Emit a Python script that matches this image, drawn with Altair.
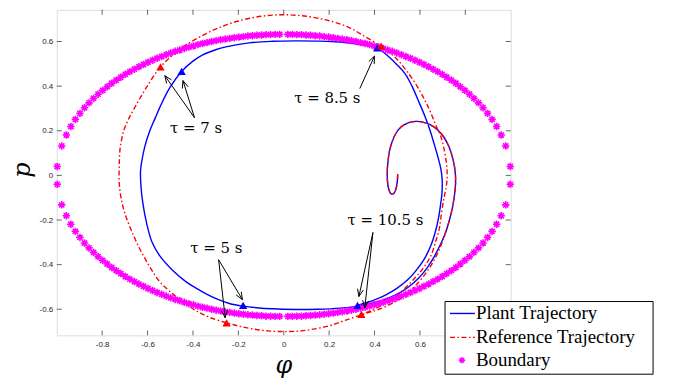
import math
import altair as alt
import pandas as pd

W, H = 456, 327
X_DOMAIN = [-1.0, 1.0]
Y_DOMAIN = [-0.717, 0.742]

x_ticks = [-0.8, -0.6, -0.4, -0.2, 0.0, 0.2, 0.4, 0.6, 0.8]
y_ticks = [-0.6, -0.4, -0.2, 0.0, 0.2, 0.4, 0.6]

# Boundary: first-quadrant samples (mirrored into the four quadrants)
bnd_phi = [0.018, 0.038, 0.058, 0.078, 0.098, 0.118, 0.138, 0.158, 0.178, 0.198,
           0.218, 0.238, 0.258, 0.278, 0.298, 0.318, 0.338, 0.358, 0.378, 0.398,
           0.418, 0.438, 0.458, 0.478, 0.498, 0.518, 0.538, 0.558, 0.578, 0.598,
           0.618, 0.638, 0.658, 0.678, 0.698, 0.718, 0.738, 0.758, 0.778, 0.798,
           0.818, 0.838, 0.858, 0.878, 0.898, 0.918, 0.938, 0.958, 0.978, 0.998]
bnd_p = [0.632, 0.632, 0.631, 0.631, 0.629, 0.628, 0.626, 0.625, 0.622, 0.620,
         0.617, 0.614, 0.611, 0.608, 0.604, 0.600, 0.595, 0.591, 0.586, 0.580,
         0.575, 0.569, 0.562, 0.556, 0.549, 0.541, 0.533, 0.525, 0.516, 0.507,
         0.497, 0.487, 0.476, 0.465, 0.453, 0.440, 0.427, 0.413, 0.397, 0.381,
         0.364, 0.345, 0.325, 0.303, 0.278, 0.251, 0.219, 0.181, 0.132, 0.040]

# Common initial spiral
spiral_phi = [0.502, 0.500, 0.494, 0.484, 0.472, 0.462, 0.457, 0.456, 0.459, 0.466,
              0.478, 0.495, 0.518, 0.548, 0.580, 0.612, 0.645, 0.677, 0.705, 0.728,
              0.745, 0.755, 0.757, 0.752, 0.742, 0.730, 0.715]
spiral_p = [0.005, -0.030, -0.062, -0.082, -0.082, -0.060, -0.025, 0.015, 0.060, 0.110,
            0.152, 0.190, 0.218, 0.235, 0.242, 0.239, 0.227, 0.205, 0.172, 0.128,
            0.075, 0.020, -0.035, -0.090, -0.150, -0.200, -0.250]

# Plant trajectory (after spiral)
plant_phi_rest = [0.695, 0.668, 0.635, 0.595, 0.550, 0.500, 0.440, 0.380, 0.320, 0.250,
                  0.150, 0.050, -0.050, -0.120, -0.180, -0.240, -0.290, -0.340, -0.390, -0.430,
                  -0.490, -0.546, -0.580, -0.604, -0.620, -0.629, -0.631, -0.626, -0.612, -0.590,
                  -0.565, -0.546, -0.502, -0.450, -0.400, -0.357, -0.300, -0.255, -0.153, -0.050,
                  0.050, 0.150, 0.211, 0.280, 0.350, 0.412, 0.459, 0.500, 0.535, 0.565,
                  0.595, 0.622, 0.645, 0.663, 0.680, 0.692, 0.698, 0.697, 0.691, 0.682,
                  0.670, 0.650, 0.619, 0.580, 0.546, 0.500, 0.450, 0.400, 0.360, 0.325]
plant_p_rest = [-0.300, -0.355, -0.410, -0.460, -0.500, -0.532, -0.558, -0.575, -0.587, -0.595,
                -0.600, -0.601, -0.598, -0.593, -0.586, -0.574, -0.556, -0.532, -0.503, -0.477,
                -0.425, -0.361, -0.300, -0.215, -0.130, -0.050, 0.020, 0.060, 0.130, 0.200,
                0.260, 0.305, 0.393, 0.466, 0.512, 0.540, 0.563, 0.576, 0.594, 0.601,
                0.603, 0.602, 0.600, 0.594, 0.584, 0.570, 0.535, 0.495, 0.455, 0.400,
                0.330, 0.265, 0.200, 0.140, 0.080, 0.030, -0.020, -0.080, -0.130, -0.190,
                -0.245, -0.310, -0.375, -0.430, -0.468, -0.505, -0.535, -0.558, -0.572, -0.583]

# Reference trajectory (after spiral)
ref_phi_rest = [0.698, 0.675, 0.645, 0.610, 0.570, 0.525, 0.475, 0.420, 0.380, 0.342,
                0.270, 0.197, 0.120, 0.066, 0.000, -0.070, -0.138, -0.200, -0.252, -0.328,
                -0.380, -0.429, -0.490, -0.546, -0.590, -0.633, -0.670, -0.700, -0.717, -0.725,
                -0.725, -0.721, -0.705, -0.685, -0.662, -0.604, -0.543, -0.488, -0.430, -0.371,
                -0.290, -0.200, -0.100, 0.000, 0.100, 0.200, 0.284, 0.350, 0.429, 0.490,
                0.540, 0.590, 0.625, 0.648, 0.672, 0.691, 0.706, 0.716, 0.720, 0.716,
                0.706, 0.695, 0.684, 0.668, 0.648, 0.615, 0.575, 0.530, 0.490, 0.440,
                0.390, 0.342]
ref_p_rest = [-0.300, -0.355, -0.410, -0.460, -0.505, -0.545, -0.575, -0.600, -0.613, -0.625,
              -0.650, -0.675, -0.691, -0.698, -0.700, -0.697, -0.688, -0.675, -0.661, -0.636,
              -0.610, -0.579, -0.530, -0.477, -0.410, -0.332, -0.250, -0.170, -0.100, -0.030,
              0.040, 0.120, 0.200, 0.250, 0.294, 0.396, 0.486, 0.540, 0.585, 0.620,
              0.660, 0.692, 0.713, 0.720, 0.713, 0.693, 0.665, 0.627, 0.578, 0.530,
              0.470, 0.396, 0.330, 0.280, 0.220, 0.178, 0.120, 0.060, 0.003, -0.050,
              -0.100, -0.170, -0.245, -0.300, -0.361, -0.415, -0.463, -0.510, -0.545, -0.578,
              -0.603, -0.623]

# Time markers (tau = 5, 7, 8.5, 10.5 s)
plant_mark_phi = [-0.179, -0.450, 0.412, 0.325]
plant_mark_p = [-0.583, 0.466, 0.572, -0.583]
ref_mark_phi = [-0.252, -0.543, 0.429, 0.342]
ref_mark_p = [-0.661, 0.486, 0.580, -0.623]

# Annotations
ann_text = ["τ = 5 s", "τ = 7 s", "τ = 8.5 s", "τ = 10.5 s"]
ann_phi = [-0.297, -0.386, 0.192, 0.448]
ann_p = [-0.324, 0.213, 0.345, -0.198]

arrow_tail_phi = [-0.287, -0.287, -0.393, -0.393, 0.335, 0.393, 0.393]
arrow_tail_p = [-0.378, -0.378, 0.258, 0.258, 0.389, -0.256, -0.256]
arrow_head_phi = [-0.258, -0.182, -0.524, -0.444, 0.400, 0.331, 0.357]
arrow_head_p = [-0.638, -0.557, 0.447, 0.425, 0.535, -0.543, -0.594]

# ---------------- tables ----------------
plant_phi = spiral_phi + plant_phi_rest
plant_p = spiral_p + plant_p_rest
ref_phi = spiral_phi + ref_phi_rest
ref_p = spiral_p + ref_p_rest

plant_df = pd.DataFrame({"phi": plant_phi, "p": plant_p, "i": range(len(plant_phi))})
ref_df = pd.DataFrame({"phi": ref_phi, "p": ref_p, "i": range(len(ref_phi))})

bx, by = [], []
for sx_, sy_ in [(1, 1), (-1, 1), (1, -1), (-1, -1)]:
    for a, b in zip(bnd_phi, bnd_p):
        bx.append(sx_ * a)
        by.append(sy_ * b)
bnd_df = pd.DataFrame({"phi": bx, "p": by})

pm_df = pd.DataFrame({"phi": plant_mark_phi, "p": plant_mark_p})
rm_df = pd.DataFrame({"phi": ref_mark_phi, "p": ref_mark_p})
ann_df = pd.DataFrame({"phi": ann_phi, "p": ann_p, "t": ann_text})

# arrows: shaft + two head wings (computed in pixel space)
px_per_x = W / (X_DOMAIN[1] - X_DOMAIN[0])
px_per_y = H / (Y_DOMAIN[1] - Y_DOMAIN[0])
segs = []
wing = 8.0
ang = math.radians(22)
for tx, ty, hx, hy in zip(arrow_tail_phi, arrow_tail_p, arrow_head_phi, arrow_head_p):
    segs.append((tx, ty, hx, hy))
    dx = (hx - tx) * px_per_x
    dy = (hy - ty) * px_per_y
    n = math.hypot(dx, dy)
    ux, uy = dx / n, dy / n
    for s in (1, -1):
        c, si = math.cos(s * ang), math.sin(s * ang)
        rx = ux * c - uy * si
        ry = ux * si + uy * c
        wx = hx - rx * wing / px_per_x
        wy = hy - ry * wing / px_per_y
        segs.append((wx, wy, hx, hy))
arrow_df = pd.DataFrame(segs, columns=["x", "y", "x2", "y2"])

xt_df = pd.DataFrame({"v": x_ticks})
yt_df = pd.DataFrame({"v": y_ticks})
one = pd.DataFrame({"a": [0]})

# ---------------- scales / axes ----------------
AX = "#262626"
xs = alt.Scale(domain=X_DOMAIN, nice=False, zero=False)
ys = alt.Scale(domain=Y_DOMAIN, nice=False, zero=False)
lbl = "replace(format(datum.value, '~g'), '\u2212', '-')"
xaxis = alt.Axis(values=x_ticks, title=None, labelExpr=lbl, domain=False, ticks=False,
                 tickSize=0, grid=False, labelPadding=5, labelFont="Liberation Sans",
                 labelFontSize=8, labelColor=AX)
yaxis = alt.Axis(values=y_ticks, title=None, labelExpr=lbl, domain=False, ticks=False,
                 tickSize=0, grid=False, labelPadding=4, labelFont="Liberation Sans",
                 labelFontSize=8, labelColor=AX)


def X(f):
    return alt.X(f, type="quantitative", scale=xs, axis=xaxis)


def Y(f):
    return alt.Y(f, type="quantitative", scale=ys, axis=yaxis)


ASTER = "M0,-1L0,1M-1,0L1,0M-0.7,-0.7L0.7,0.7M-0.7,0.7L0.7,-0.7"
DASHDOT = [5, 2.5, 1.5, 2.5]
MAG = "#FF00FF"

plant_line = alt.Chart(plant_df).mark_line(color="#0000FF", strokeWidth=1.4,
                                           interpolate="catmull-rom").encode(
    x=X("phi"), y=Y("p"), order="i:Q")
ref_line = alt.Chart(ref_df).mark_line(color="#FF0000", strokeWidth=1.4, strokeDash=DASHDOT,
                                       interpolate="catmull-rom").encode(
    x=X("phi"), y=Y("p"), order="i:Q")
bnd = alt.Chart(bnd_df).mark_point(shape=ASTER, size=56, filled=False, stroke=MAG,
                                   strokeWidth=1.6, opacity=1).encode(x=X("phi"), y=Y("p"))
pm = alt.Chart(pm_df).mark_point(shape="triangle-up", filled=True, color="#0000FF", size=70,
                                 opacity=1).encode(x=X("phi"), y=Y("p"))
rm = alt.Chart(rm_df).mark_point(shape="triangle-up", filled=True, color="#FF0000", size=70,
                                 opacity=1).encode(x=X("phi"), y=Y("p"))
arrows = alt.Chart(arrow_df).mark_rule(color="black", strokeWidth=1).encode(
    x=X("x"), y=Y("y"), x2="x2", y2="y2")
ann = alt.Chart(ann_df).mark_text(font="DejaVu Serif", fontSize=15, color="black",
                                  align="center", baseline="middle").encode(
    x=X("phi"), y=Y("p"), text="t:N")

tick_b = alt.Chart(xt_df).mark_tick(orient="vertical", size=5, thickness=1, color=AX).encode(
    x=X("v"), y=alt.value(H - 2.5))
tick_t = alt.Chart(xt_df).mark_tick(orient="vertical", size=5, thickness=1, color=AX).encode(
    x=X("v"), y=alt.value(2.5))
tick_l = alt.Chart(yt_df).mark_tick(orient="horizontal", size=5, thickness=1, color=AX).encode(
    y=Y("v"), x=alt.value(2.5))
tick_r = alt.Chart(yt_df).mark_tick(orient="horizontal", size=5, thickness=1, color=AX).encode(
    y=Y("v"), x=alt.value(W - 2.5))

# axis titles
xtitle = alt.Chart(one).mark_text(text="φ", font="DejaVu Serif", fontStyle="italic",
                                  fontSize=24, color="black", align="center",
                                  baseline="middle").encode(x=alt.value(228), y=alt.value(358))
ytitle = alt.Chart(one).mark_text(text="p", font="DejaVu Serif", fontStyle="italic",
                                  fontSize=24, color="black", align="center", baseline="middle",
                                  angle=270).encode(x=alt.value(-34), y=alt.value(161))

# legend (manual)
LX0, LX1, LY0, LY1 = 390, 599, 293, 366
leg_box = alt.Chart(one).mark_rect(fill="white", stroke="black", strokeWidth=1).encode(
    x=alt.value(LX0), x2=alt.value(LX1), y=alt.value(LY0), y2=alt.value(LY1))
leg_l1 = alt.Chart(one).mark_rule(color="#0000FF", strokeWidth=1.4).encode(
    x=alt.value(395), x2=alt.value(420), y=alt.value(305))
leg_l2 = alt.Chart(one).mark_rule(color="#FF0000", strokeWidth=1.4, strokeDash=DASHDOT).encode(
    x=alt.value(395), x2=alt.value(420), y=alt.value(329))
leg_p3 = alt.Chart(one).mark_point(shape=ASTER, size=42, filled=False, stroke=MAG,
                                   strokeWidth=1.4, opacity=1).encode(
    x=alt.value(407), y=alt.value(352))
leg_texts = []
for txt, yy in [("Plant Trajectory", 311), ("Reference Trajectory", 335), ("Boundary", 358)]:
    leg_texts.append(alt.Chart(one).mark_text(text=txt, font="Liberation Serif", fontSize=19,
                                              color="black", align="left",
                                              baseline="alphabetic").encode(
        x=alt.value(421), y=alt.value(yy)))

chart = alt.layer(
    plant_line, ref_line, bnd, pm, rm, arrows, ann,
    tick_b, tick_t, tick_l, tick_r,
    xtitle, ytitle,
    leg_box, leg_l1, leg_l2, leg_p3, *leg_texts
).properties(
    width=W, height=H,
    autosize=alt.AutoSizeParams(type="none"),
    padding={"left": 49, "top": 1, "right": 160, "bottom": 46},
).configure_view(stroke=AX, strokeWidth=1).configure(background="white")

chart.save("out.html", embed_options={"renderer": "svg", "actions": False})
